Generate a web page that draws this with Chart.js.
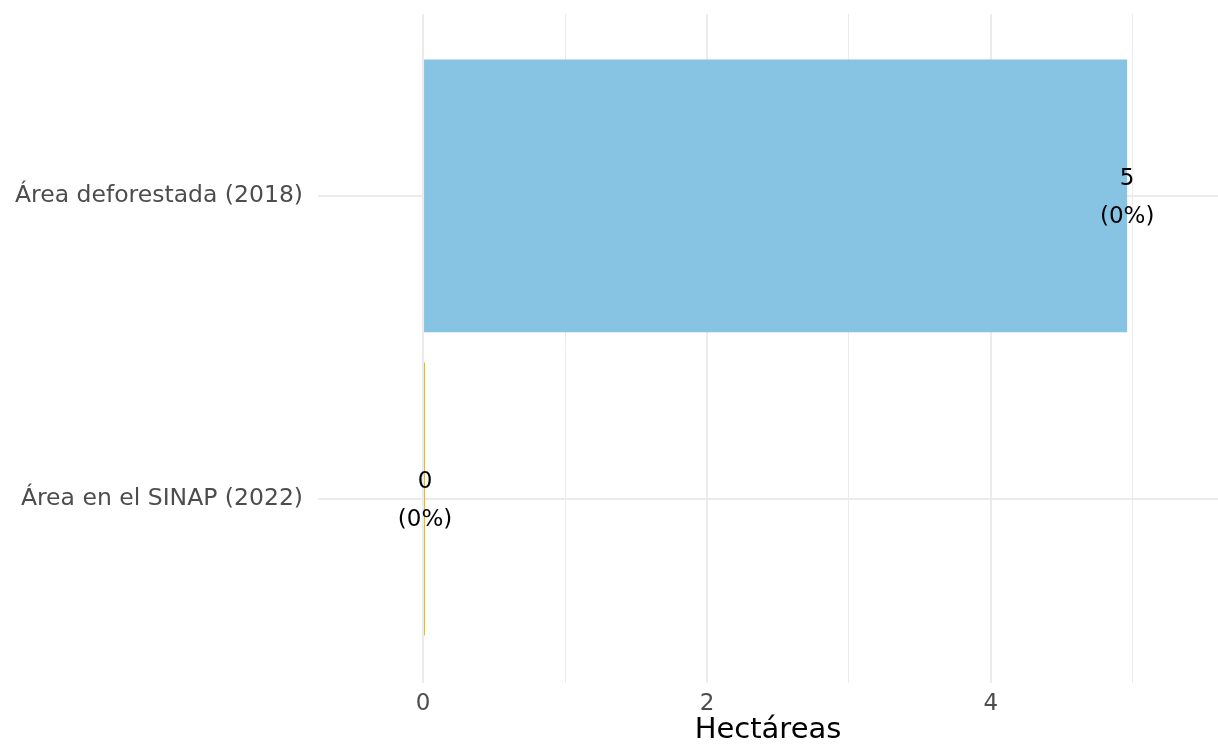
<!DOCTYPE html>
<html>
<head>
<meta charset="utf-8">
<script src="https://cdn.jsdelivr.net/npm/chart.js@4"></script>
<style>
  html, body { margin: 0; padding: 0; background: #fff; }
  canvas { display: block; }
</style>
</head>
<body>
<canvas id="areaChart" width="1218" height="745"></canvas>
<script>
// data
const categories = ['Área deforestada (2018)', 'Área en el SINAP (2022)'];
const hectareas = [4.96, 0.014];
const pctLabels = ['0%', '0%'];
const barColors = ['#87C4E3', '#EDB800'];
const xTicks = [0, 2, 4];

const FONT = "'DejaVu Sans', Verdana, sans-serif";

// value labels at the end of each bar, two lines
const valueLabels = {
  id: 'valueLabels',
  afterDatasetsDraw(chart) {
    const { ctx, scales } = chart;
    ctx.save();
    ctx.font = '23px ' + FONT;
    ctx.fillStyle = '#000';
    ctx.textAlign = 'center';
    ctx.textBaseline = 'middle';
    hectareas.forEach((v, i) => {
      const x = scales.x.getPixelForValue(v);
      const y = scales.y.getPixelForValue(i);
      ctx.fillText(String(Math.round(v)), x, y - 17);
      ctx.fillText('(' + pctLabels[i] + ')', x, y + 21);
    });
    ctx.restore();
  }
};

new Chart(document.getElementById('areaChart'), {
  type: 'bar',
  data: {
    datasets: [{
      data: hectareas.map((v, i) => ({ x: v, y: i })),
      backgroundColor: barColors,
      borderWidth: 0,
      barPercentage: 0.9,
      categoryPercentage: 1
    }]
  },
  options: {
    responsive: false,
    animation: false,
    indexAxis: 'y',
    layout: { padding: { top: 14, left: 0, right: 0, bottom: 0 } },
    plugins: { legend: { display: false }, tooltip: { enabled: false } },
    scales: {
      x: {
        type: 'linear',
        min: -0.74, max: 5.6,
        border: { display: false },
        afterBuildTicks: (s) => { s.ticks = [0, 1, 2, 3, 4, 5].map(v => ({ value: v })); },
        afterFit: (s) => { s.height = 62; s.paddingLeft = 0; s.paddingRight = 0; },
        grid: {
          color: '#EBEBEB',
          lineWidth: (c) => (c.tick && c.tick.value % 2 === 0 ? 2 : 1),
          drawTicks: false
        },
        ticks: {
          padding: 7,
          color: '#4D4D4D',
          font: { family: FONT, size: 23 },
          callback: (v) => (xTicks.includes(v) ? String(v) : '')
        },
        title: {
          display: true, text: 'Hectáreas', color: '#000',
          font: { family: FONT, size: 29, lineHeight: 1.0 }, padding: { top: 0, bottom: 0 }
        }
      },
      y: {
        type: 'linear',
        reverse: true,
        offset: false,
        min: -0.6, max: 1.607,
        border: { display: false },
        afterBuildTicks: (s) => { s.ticks = categories.map((c, i) => ({ value: i })); },
        afterFit: (s) => { s.width = 318; s.paddingTop = 0; s.paddingBottom = 0; },
        grid: { color: '#EBEBEB', lineWidth: 2, drawTicks: false, offset: false },
        ticks: {
          padding: 15,
          color: '#4D4D4D',
          font: { family: FONT, size: 23.5 },
          callback: (v) => categories[v] || ''
        }
      }
    }
  },
  plugins: [valueLabels]
});
</script>
</body>
</html>
